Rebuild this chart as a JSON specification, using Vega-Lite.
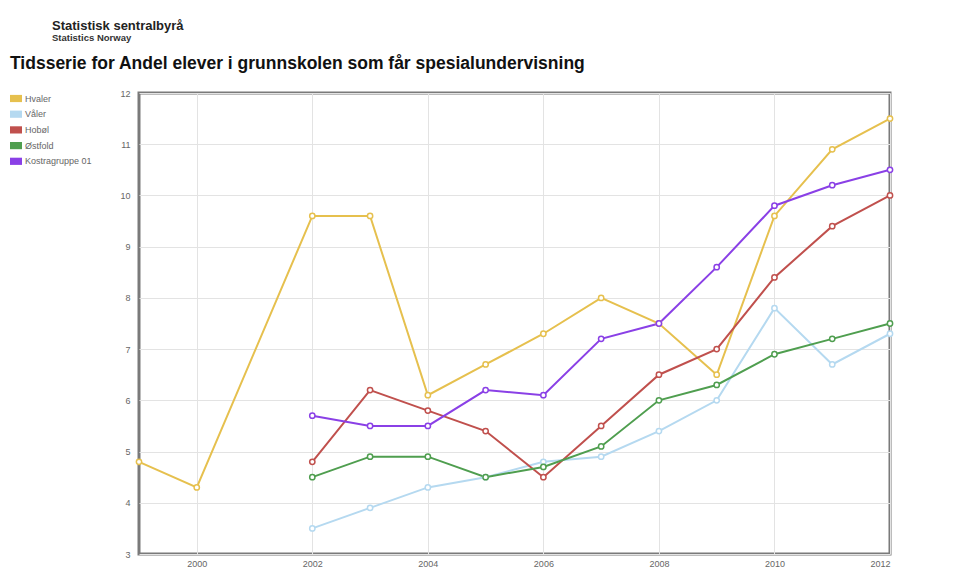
{
  "$schema": "https://vega.github.io/schema/vega-lite/v6.json",
  "width": 751,
  "height": 461,
  "autosize": "none",
  "padding": {"left": 139, "top": 93, "right": 78, "bottom": 15},
  "background": "white",
  "title": {
    "text": "Statistisk sentralbyrå",
    "subtitle": "Statistics Norway",
    "anchor": "start",
    "frame": "group",
    "dx": -87,
    "offset": 13,
    "font": "Liberation Sans",
    "fontSize": 13,
    "fontWeight": "bold",
    "color": "#222",
    "subtitleFont": "Liberation Sans",
    "subtitleFontSize": 9.5,
    "subtitleFontWeight": "bold",
    "subtitleColor": "#333",
    "subtitlePadding": 0
  },
  "config": {
    "view": {"stroke": "#7a7a7a", "strokeWidth": 3},
    "font": "Liberation Sans"
  },
  "data": {
    "values": [
      {"region": "Hvaler", "year": 1999, "value": 4.8},
      {"region": "Hvaler", "year": 2000, "value": 4.3},
      {"region": "Hvaler", "year": 2002, "value": 9.6},
      {"region": "Hvaler", "year": 2003, "value": 9.6},
      {"region": "Hvaler", "year": 2004, "value": 6.1},
      {"region": "Hvaler", "year": 2005, "value": 6.7},
      {"region": "Hvaler", "year": 2006, "value": 7.3},
      {"region": "Hvaler", "year": 2007, "value": 8.0},
      {"region": "Hvaler", "year": 2008, "value": 7.5},
      {"region": "Hvaler", "year": 2009, "value": 6.5},
      {"region": "Hvaler", "year": 2010, "value": 9.6},
      {"region": "Hvaler", "year": 2011, "value": 10.9},
      {"region": "Hvaler", "year": 2012, "value": 11.5},
      {"region": "Våler", "year": 2002, "value": 3.5},
      {"region": "Våler", "year": 2003, "value": 3.9},
      {"region": "Våler", "year": 2004, "value": 4.3},
      {"region": "Våler", "year": 2005, "value": 4.5},
      {"region": "Våler", "year": 2006, "value": 4.8},
      {"region": "Våler", "year": 2007, "value": 4.9},
      {"region": "Våler", "year": 2008, "value": 5.4},
      {"region": "Våler", "year": 2009, "value": 6.0},
      {"region": "Våler", "year": 2010, "value": 7.8},
      {"region": "Våler", "year": 2011, "value": 6.7},
      {"region": "Våler", "year": 2012, "value": 7.3},
      {"region": "Hobøl", "year": 2002, "value": 4.8},
      {"region": "Hobøl", "year": 2003, "value": 6.2},
      {"region": "Hobøl", "year": 2004, "value": 5.8},
      {"region": "Hobøl", "year": 2005, "value": 5.4},
      {"region": "Hobøl", "year": 2006, "value": 4.5},
      {"region": "Hobøl", "year": 2007, "value": 5.5},
      {"region": "Hobøl", "year": 2008, "value": 6.5},
      {"region": "Hobøl", "year": 2009, "value": 7.0},
      {"region": "Hobøl", "year": 2010, "value": 8.4},
      {"region": "Hobøl", "year": 2011, "value": 9.4},
      {"region": "Hobøl", "year": 2012, "value": 10.0},
      {"region": "Østfold", "year": 2002, "value": 4.5},
      {"region": "Østfold", "year": 2003, "value": 4.9},
      {"region": "Østfold", "year": 2004, "value": 4.9},
      {"region": "Østfold", "year": 2005, "value": 4.5},
      {"region": "Østfold", "year": 2006, "value": 4.7},
      {"region": "Østfold", "year": 2007, "value": 5.1},
      {"region": "Østfold", "year": 2008, "value": 6.0},
      {"region": "Østfold", "year": 2009, "value": 6.3},
      {"region": "Østfold", "year": 2010, "value": 6.9},
      {"region": "Østfold", "year": 2011, "value": 7.2},
      {"region": "Østfold", "year": 2012, "value": 7.5},
      {"region": "Kostragruppe 01", "year": 2002, "value": 5.7},
      {"region": "Kostragruppe 01", "year": 2003, "value": 5.5},
      {"region": "Kostragruppe 01", "year": 2004, "value": 5.5},
      {"region": "Kostragruppe 01", "year": 2005, "value": 6.2},
      {"region": "Kostragruppe 01", "year": 2006, "value": 6.1},
      {"region": "Kostragruppe 01", "year": 2007, "value": 7.2},
      {"region": "Kostragruppe 01", "year": 2008, "value": 7.5},
      {"region": "Kostragruppe 01", "year": 2009, "value": 8.6},
      {"region": "Kostragruppe 01", "year": 2010, "value": 9.8},
      {"region": "Kostragruppe 01", "year": 2011, "value": 10.2},
      {"region": "Kostragruppe 01", "year": 2012, "value": 10.5}
    ]
  },
  "encoding": {
    "x": {
      "field": "year",
      "type": "quantitative",
      "scale": {"domain": [1999, 2012], "nice": false, "zero": false},
      "axis": {
        "title": null,
        "values": [2000, 2002, 2004, 2006, 2008, 2010, 2012],
        "format": "d",
        "domain": false,
        "ticks": false,
        "labelFontSize": 9,
        "labelColor": "#666",
        "labelPadding": 5,
        "gridColor": "#e3e3e3",
        "gridWidth": 1
      }
    },
    "y": {
      "field": "value",
      "type": "quantitative",
      "scale": {"domain": [3, 12], "nice": false, "zero": false},
      "axis": {
        "title": null,
        "values": [3, 4, 5, 6, 7, 8, 9, 10, 11, 12],
        "domain": false,
        "ticks": false,
        "labelFontSize": 9,
        "labelColor": "#666",
        "labelPadding": 9,
        "gridColor": "#e3e3e3",
        "gridWidth": 1
      }
    },
    "color": {
      "field": "region",
      "type": "nominal",
      "scale": {
        "domain": ["Hvaler", "Våler", "Hobøl", "Østfold", "Kostragruppe 01"],
        "range": ["#e6c04e", "#b5d9f0", "#c0504d", "#4f9e4f", "#8a40e6"]
      },
      "legend": {
        "title": "Tidsserie for Andel elever i grunnskolen som får spesialundervisning",
        "titleFont": "Liberation Sans",
        "titleFontSize": 17.5,
        "titleFontWeight": "bold",
        "titleColor": "#111",
        "titleLimit": 2000,
        "titlePadding": 20,
        "orient": "none",
        "legendX": -129,
        "legendY": -38,
        "symbolType": "M-1,-0.6H1V0.6H-1Z",
        "symbolSize": 144,
        "labelFontSize": 9,
        "labelColor": "#666",
        "labelOffset": 3,
        "rowPadding": 4.7,
        "encode": {
          "symbols": {
            "update": {
              "fill": {"scale": "color", "field": "value"},
              "stroke": {"value": "transparent"},
              "strokeWidth": {"value": 0}
            }
          }
        }
      }
    }
  },
  "layer": [
    {"mark": {"type": "line", "strokeWidth": 2}},
    {"mark": {"type": "point", "filled": false, "fill": "white", "fillOpacity": 1, "opacity": 1, "size": 28, "strokeWidth": 1.5}}
  ]
}
